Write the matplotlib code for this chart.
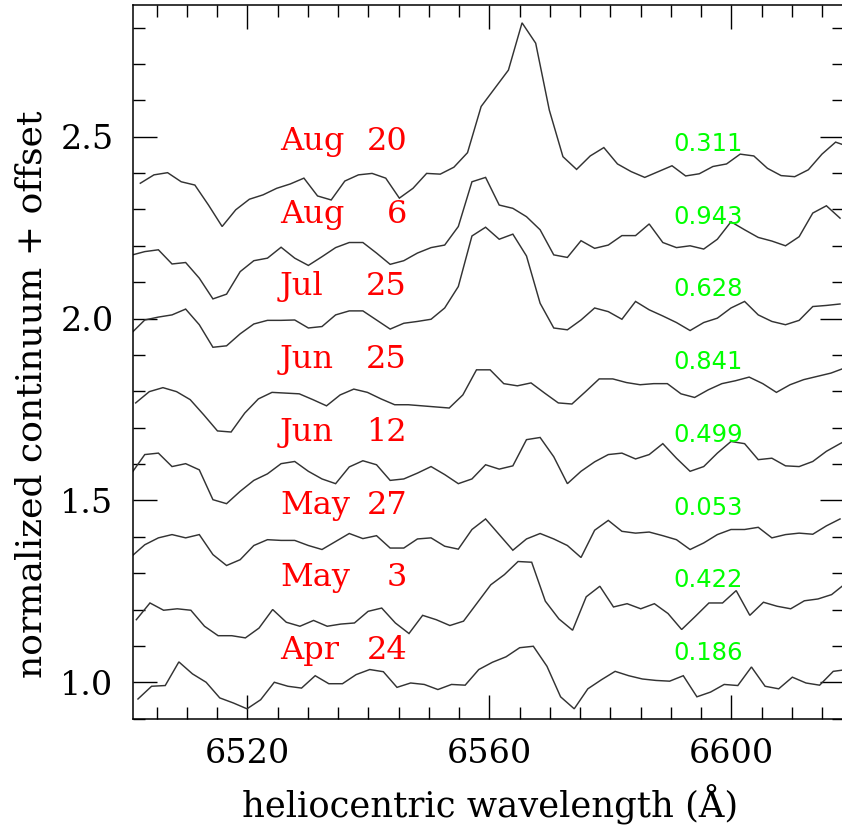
import numpy as np
import matplotlib
matplotlib.use("Agg")
import matplotlib.pyplot as plt
from matplotlib.ticker import MultipleLocator, FormatStrFormatter

# ---------------- data ----------------
months = ["Apr", "May", "May", "Jun", "Jun", "Jul", "Aug", "Aug"]
days = ["24", "3", "27", "12", "25", "25", "6", "20"]
phases = ["0.186", "0.422", "0.053", "0.499", "0.841", "0.628", "0.943", "0.311"]
offsets = [0.0, 0.2, 0.4, 0.6, 0.8, 1.0, 1.2, 1.4]
start_wl = [6501.92, 6501.65, 6500.79, 6500.79, 6501.54, 6500.79, 6500.79, 6502.31]
step_wl = 2.253

flux_apr24 = [0.954, 0.989, 0.991, 1.056, 1.023, 1.000, 0.957, 0.943, 0.927, 0.952,
              1.000, 0.989, 0.984, 1.018, 0.996, 0.996, 1.021, 1.035, 1.029, 0.986,
              0.998, 0.994, 0.980, 0.994, 0.992, 1.035, 1.055, 1.070, 1.095, 1.099,
              1.044, 0.960, 0.927, 0.982, 1.007, 1.030, 1.018, 1.009, 1.005, 1.003,
              1.018, 0.960, 0.973, 0.994, 0.991, 1.042, 0.989, 0.982, 1.014, 0.998,
              0.992, 1.030, 1.035]
flux_may03 = [0.972, 1.018, 0.998, 1.002, 0.998, 0.954, 0.928, 0.928, 0.922, 0.949,
              1.000, 0.965, 0.954, 0.970, 0.954, 0.960, 0.963, 0.995, 1.004, 0.963,
              0.934, 0.984, 0.972, 0.956, 0.968, 1.018, 1.068, 1.096, 1.132, 1.130,
              1.023, 0.974, 0.943, 1.035, 1.064, 1.007, 1.016, 1.002, 1.016, 0.989,
              0.945, 0.981, 1.018, 1.018, 1.052, 0.984, 1.020, 1.009, 1.002, 1.024,
              1.029, 1.041, 1.071]
flux_may27 = [0.945, 0.978, 0.997, 1.006, 0.997, 1.006, 0.951, 0.921, 0.937, 0.976,
              0.992, 0.990, 0.990, 0.976, 0.965, 0.987, 1.009, 0.995, 1.003, 0.969,
              0.969, 0.994, 0.997, 0.974, 0.966, 1.020, 1.049, 1.006, 0.963, 0.994,
              1.009, 0.994, 0.976, 0.943, 1.018, 1.045, 1.015, 1.010, 1.013, 1.003,
              0.992, 0.965, 0.983, 1.006, 1.020, 1.020, 1.026, 0.997, 1.006, 1.010,
              1.007, 1.030, 1.049]
flux_jun12 = [0.973, 1.026, 1.030, 0.993, 1.001, 0.984, 0.902, 0.891, 0.925, 0.955,
              0.973, 1.001, 1.007, 0.980, 0.959, 0.946, 0.992, 1.009, 0.998, 0.955,
              0.959, 0.975, 0.993, 0.971, 0.946, 0.959, 0.998, 0.986, 0.995, 1.067,
              1.073, 1.020, 0.946, 0.980, 1.006, 1.026, 1.030, 1.014, 1.026, 1.056,
              1.016, 0.980, 0.993, 1.030, 1.062, 1.056, 1.012, 1.016, 0.995, 0.993,
              1.007, 1.035, 1.056, 1.075]
flux_jun25 = [0.968, 0.999, 1.010, 0.999, 0.977, 0.935, 0.891, 0.888, 0.940, 0.979,
              0.997, 0.995, 0.993, 0.977, 0.960, 0.990, 1.006, 0.997, 0.979, 0.963,
              0.963, 0.960, 0.957, 0.954, 0.990, 1.059, 1.059, 1.021, 1.015, 1.023,
              0.995, 0.968, 0.965, 0.999, 1.034, 1.034, 1.024, 1.018, 1.021, 1.021,
              0.993, 0.983, 1.004, 1.021, 1.029, 1.039, 1.021, 0.997, 1.018, 1.032,
              1.041, 1.050, 1.064]
flux_jul25 = [0.959, 0.996, 1.004, 1.010, 1.026, 0.983, 0.921, 0.925, 0.958, 0.985,
              0.995, 0.995, 0.996, 0.974, 0.978, 1.010, 1.021, 1.021, 0.996, 0.971,
              0.987, 0.992, 0.998, 1.029, 1.088, 1.227, 1.251, 1.218, 1.232, 1.172,
              1.042, 0.974, 0.969, 0.996, 1.029, 1.019, 0.998, 1.047, 1.024, 1.007,
              0.989, 0.967, 0.989, 1.001, 1.029, 1.047, 1.010, 0.992, 0.983, 0.995,
              1.033, 1.036, 1.040]
flux_aug06 = [0.974, 0.984, 0.989, 0.950, 0.954, 0.911, 0.854, 0.867, 0.929, 0.959,
              0.966, 0.996, 0.966, 0.946, 0.970, 0.995, 1.009, 1.009, 0.980, 0.949,
              0.959, 0.980, 0.995, 1.002, 1.053, 1.176, 1.188, 1.112, 1.103, 1.080,
              1.044, 0.975, 0.968, 1.014, 0.993, 1.002, 1.028, 1.028, 1.060, 1.009,
              0.995, 1.000, 0.991, 1.018, 1.066, 1.044, 1.023, 1.013, 1.000, 1.025,
              1.090, 1.110, 1.076]
flux_aug20 = [0.972, 0.995, 1.001, 0.976, 0.967, 0.912, 0.853, 0.899, 0.928, 0.940,
              0.958, 0.970, 0.986, 0.937, 0.926, 0.978, 0.995, 0.999, 0.986, 0.931,
              0.958, 0.999, 0.997, 1.016, 1.056, 1.183, 1.233, 1.283, 1.413, 1.357,
              1.173, 1.045, 1.010, 1.047, 1.070, 1.025, 1.004, 0.988, 1.004, 1.020,
              0.992, 0.998, 1.018, 1.025, 1.052, 1.047, 1.013, 0.993, 0.990, 1.009,
              1.052, 1.085, 1.072]

fluxes = [flux_apr24, flux_may03, flux_may27, flux_jun12,
          flux_jun25, flux_jul25, flux_aug06, flux_aug20]

# ---------------- figure ----------------
W, H = 842, 831
fig = plt.figure(figsize=(W / 100, H / 100), dpi=100)
ax = fig.add_axes([133 / W, (H - 719) / H, (844 - 133) / W, (719 - 5) / H])

for f, off, s0 in zip(fluxes, offsets, start_wl):
    f = np.asarray(f)
    wl = s0 + step_wl * np.arange(len(f))
    ax.plot(wl, f + off, color="#333333", lw=1.05, solid_joinstyle="miter")

for m, d, ph, off in zip(months, days, phases, offsets):
    ax.text(6525.4, off + 1.0635, m, color="red", fontsize=23,
            family="DejaVu Serif", ha="left", va="baseline")
    ax.text(6546.4, off + 1.0635, d, color="red", fontsize=23,
            family="DejaVu Serif", ha="right", va="baseline")
    ax.text(6590.4, off + 1.061, ph, color="#00ff00", fontsize=17.5,
            family="DejaVu Sans", ha="left", va="baseline")

ax.set_xlim(6501.1, 6618.6)
ax.set_ylim(0.899, 2.862)

ax.xaxis.set_major_locator(MultipleLocator(40))
ax.xaxis.set_minor_locator(MultipleLocator(5))
ax.yaxis.set_major_locator(MultipleLocator(0.5))
ax.yaxis.set_minor_locator(MultipleLocator(0.1))
ax.yaxis.set_major_formatter(FormatStrFormatter("%.1f"))
ax.xaxis.set_major_formatter(FormatStrFormatter("%d"))

ax.tick_params(which="both", direction="in", top=True, right=True,
               width=1.0, colors="black")
ax.tick_params(which="major", length=17, pad=14, labelsize=24)
ax.tick_params(which="minor", length=8.5)
for lab in ax.get_xticklabels() + ax.get_yticklabels():
    lab.set_family("DejaVu Serif")
for sp in ax.spines.values():
    sp.set_linewidth(1.1)

# axis titles placed in figure pixel coordinates
fig.text(490 / W, (H - 816) / H, "heliocentric wavelength (Å)",
         family="DejaVu Serif", fontsize=25.5, ha="center", va="baseline")
fig.text(42 / W, (H - 394) / H, "normalized continuum + offset",
         family="DejaVu Serif", fontsize=26, ha="center", va="baseline",
         rotation=90, rotation_mode="anchor")

fig.savefig("out.png", dpi=100)
